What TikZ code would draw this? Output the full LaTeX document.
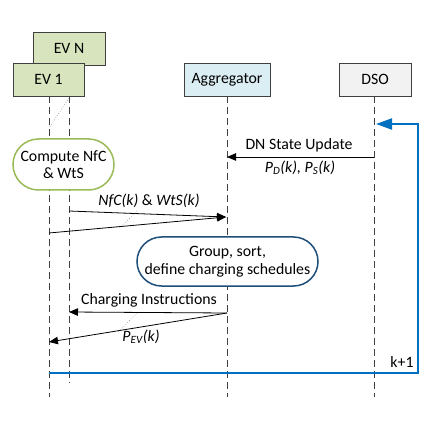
\documentclass[tikz,border=0pt]{standalone}
\usepackage{fontspec}
\setmainfont{Carlito}
\usetikzlibrary{arrows.meta,shapes.misc}
\definecolor{evfill}{HTML}{D7E4BD}
\definecolor{aggfill}{HTML}{DBEEF4}
\definecolor{dsofill}{HTML}{F2F2F2}
\definecolor{boxline}{HTML}{404040}
\definecolor{greenline}{HTML}{9BBB59}
\definecolor{navyline}{HTML}{1F4E79}
\definecolor{blueline}{HTML}{0070C0}
\begin{document}
\begin{tikzpicture}[x=1pt,y=-1pt,
  every node/.style={font=\fontsize{15.8}{18.5}\selectfont},
  actor/.style={draw=boxline,line width=0.9pt,minimum height=33pt,inner sep=0pt},
  lifeline/.style={draw=boxline,line width=0.8pt,dash pattern=on 7pt off 4pt},
  msg/.style={draw=black,line width=0.8pt,-{Triangle[length=9pt,width=7.5pt]}},
  dotline/.style={draw=gray,line width=0.6pt,dotted},
  procbox/.style={rounded rectangle,fill=white,line width=1.5pt,align=center,inner sep=0pt},
  lbl/.style={inner sep=1pt}]
\useasboundingbox (0,0) rectangle (439,422);
% lifeline coordinates
\coordinate (evnT) at (69,96);
\coordinate (evnB) at (69,383);
\coordinate (ev1T) at (49,96);
\coordinate (ev1B) at (49,397);
\coordinate (aggT) at (227,96);
\coordinate (aggB) at (227,397);
\coordinate (dsoT) at (374,96);
\coordinate (dsoB) at (374,397);
\draw[lifeline] (evnT) -- (evnB);
\draw[lifeline] (ev1T) -- (ev1B);
\draw[lifeline] (aggT) -- (aggB);
\draw[lifeline] (dsoT) -- (dsoB);
% actors
\node[actor,fill=evfill,minimum width=72pt] (evn) at (69,48.5) {EV N};
\node[actor,fill=evfill,minimum width=71pt] (ev1) at (48.5,79.5) {EV 1};
\node[actor,fill=aggfill,minimum width=86pt] (agg) at (227,80) {Aggregator};
\node[actor,fill=dsofill,minimum width=72pt] (dso) at (375,79.5) {DSO};
% top dotted
\coordinate (d1a) at (69,98);
\coordinate (d1b) at (49,128);
\draw[dotline] (d1a) -- (d1b);
% compute box
\node[procbox,draw=greenline,minimum width=101pt,minimum height=51pt] (comp) at (63.5,164.5) {Compute NfC\\[-1pt]\& WtS};
% DN state update
\coordinate (dnA) at (374,157);
\coordinate (dnB) at (227,157);
\draw[msg] (dnA) -- (dnB);
\node[lbl] (dnl) at (299,145) {DN State Update};
\node[lbl] (dnp) at (300,168) {\textit{P\textsubscript{D}(k), P\textsubscript{S}(k)}};
% NfC & WtS
\coordinate (n1a) at (69,211);
\coordinate (n2a) at (49,233);
\coordinate (nB) at (226,217);
\draw[msg] (n1a) -- (nB);
\draw[msg] (n2a) -- (nB);
\coordinate (d2a) at (137,211);
\coordinate (d2b) at (122,226);
\draw[dotline] (d2a) -- (d2b);
\node[lbl] (nl) at (149,201) {\textit{NfC(k)} \& \textit{WtS(k)}};
% group box
\node[procbox,draw=navyline,minimum width=181pt,minimum height=49pt] (grp) at (227.5,261.5) {Group, sort,\\[0pt]define charging schedules};
% charging instructions
\coordinate (cA) at (227,313);
\coordinate (c1B) at (69,312);
\coordinate (c2B) at (49,342);
\draw[msg] (cA) -- (c1B);
\draw[msg] (cA) -- (c2B);
\coordinate (d3a) at (137,313);
\coordinate (d3b) at (118,332);
\draw[dotline] (d3a) -- (d3b);
\node[lbl] (cl) at (149,300) {Charging Instructions};
\node[lbl] (cp) at (141,337) {\textit{P\textsubscript{EV}(k)}};
% blue loop
\coordinate (bS) at (49,373);
\coordinate (bC1) at (418,373);
\coordinate (bC2) at (418,124);
\coordinate (bE) at (376,124);
\draw[draw=blueline,line width=2pt,-{Triangle[length=16pt,width=11pt]}] (bS) -- (bC1) -- (bC2) -- (bE);
\node[lbl] (kl) at (402,362) {k+1};
\end{tikzpicture}
\end{document}
